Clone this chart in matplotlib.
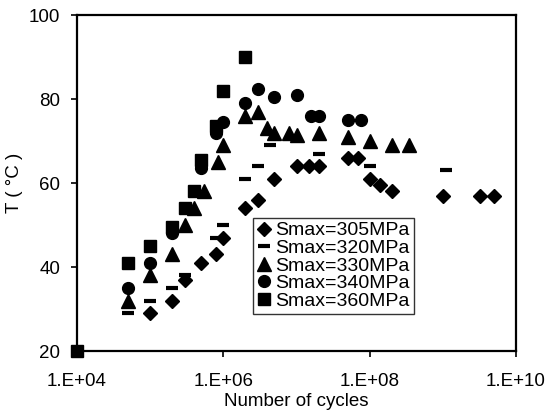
import matplotlib
matplotlib.use("Agg")
import matplotlib.pyplot as plt
from matplotlib.ticker import FixedLocator, NullLocator

plt.rcParams['font.family'] = ['Liberation Sans', 'DejaVu Sans']

# Smax = 305 MPa (diamonds)
n_305 = [1e5, 2e5, 3e5, 5e5, 8e5, 1e6, 2e6, 3e6, 5e6, 1e7, 1.5e7, 2e7, 5e7, 7e7, 1e8, 1.4e8, 2e8, 1e9, 3.2e9, 5e9]
t_305 = [29, 32, 37, 41, 43, 47, 54, 56, 61, 64, 64, 64, 66, 66, 61, 59.5, 58, 57, 57, 57]
# Smax = 320 MPa (dashes)
n_320 = [5e4, 1e5, 2e5, 3e5, 8e5, 1e6, 2e6, 3e6, 4.4e6, 2e7, 1e8, 1.1e9]
t_320 = [29, 32, 35, 38, 47, 50, 61, 64, 69, 67, 64, 63]
# Smax = 330 MPa (triangles)
n_330 = [5e4, 1e5, 2e5, 3e5, 4e5, 5.5e5, 8.5e5, 1e6, 2e6, 3e6, 4e6, 5e6, 8e6, 1e7, 2e7, 5e7, 1e8, 2e8, 3.4e8]
t_330 = [32, 38, 43, 50, 54, 58, 65, 69, 76, 77, 73, 72, 72, 71.5, 72, 71, 70, 69, 69]
# Smax = 340 MPa (circles)
n_340 = [5e4, 1e5, 2e5, 5e5, 8e5, 1e6, 2e6, 3e6, 5e6, 1e7, 1.6e7, 2e7, 5e7, 7.5e7]
t_340 = [35, 41, 48, 63.5, 72, 74.5, 79, 82.5, 80.5, 81, 76, 76, 75, 75]
# Smax = 360 MPa (squares)
n_360 = [1e4, 5e4, 1e5, 2e5, 3e5, 4e5, 5e5, 8e5, 1e6, 2e6]
t_360 = [20, 41, 45, 49.5, 54, 58, 65.5, 73.5, 82, 90]

labels = ['Smax=305MPa', 'Smax=320MPa', 'Smax=330MPa', 'Smax=340MPa', 'Smax=360MPa']
x_ticks = [1e4, 1e6, 1e8, 1e10]
x_ticklabels = ['1.E+04', '1.E+06', '1.E+08', '1.E+10']
y_ticks = [20, 40, 60, 80, 100]

fig = plt.figure(figsize=(5.5, 4.13), dpi=100)
ax = fig.add_axes([77/550, 62/413, 439/550, 336/413])

ax.plot(n_305, t_305, linestyle='none', marker='D', ms=7, color='black', label=labels[0], clip_on=False)
ax.plot(n_320, t_320, linestyle='none', marker='_', ms=9, mew=3, color='black', label=labels[1], clip_on=False)
ax.plot(n_330, t_330, linestyle='none', marker='^', ms=9.5, color='black', label=labels[2], clip_on=False)
ax.plot(n_340, t_340, linestyle='none', marker='o', ms=8.5, color='black', label=labels[3], clip_on=False)
ax.plot(n_360, t_360, linestyle='none', marker='s', ms=8, color='black', label=labels[4], clip_on=False)

ax.set_xscale('log')
ax.set_xlim(1e4, 1e10)
ax.set_ylim(20, 100)
ax.xaxis.set_major_locator(FixedLocator(x_ticks))
ax.xaxis.set_minor_locator(NullLocator())
ax.set_xticklabels(x_ticklabels)
ax.set_yticks(y_ticks)
ax.tick_params(axis='both', direction='out', length=4, width=1.2, labelsize=13.5, colors='black')
ax.tick_params(axis='x', pad=12)
ax.tick_params(axis='y', pad=8)
for s in ax.spines.values():
    s.set_linewidth(1.6)
    s.set_color('black')

ax.set_xlabel('Number of cycles', fontsize=13.5, labelpad=2)
ax.set_ylabel('T ( °C )', fontsize=13.5, labelpad=4)

leg = ax.legend(loc='upper left', bbox_to_anchor=(0.401, 0.396), borderaxespad=0,
                fontsize=14, frameon=True, fancybox=False, edgecolor='black',
                handlelength=0.7, handletextpad=0.25, labelspacing=0.0,
                borderpad=0.2, numpoints=1)
leg.get_frame().set_linewidth(1.0)

fig.savefig('out.png', dpi=100)
